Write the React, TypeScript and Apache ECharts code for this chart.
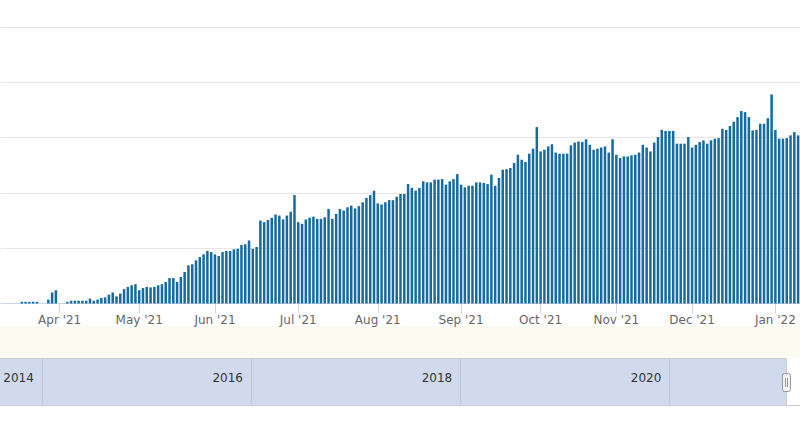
import React, { useEffect, useRef } from "react";
import * as echarts from "echarts";

// Month names of the trading-day bars (first month starts mid-month, so it is not labelled)
const monthNames = ["Mar '21", "Apr '21", "May '21", "Jun '21", "Jul '21", "Aug '21", "Sep '21", "Oct '21", "Nov '21", "Dec '21", "Jan '22"];
const labelledMonths = ["Apr '21", "May '21", "Jun '21", "Jul '21", "Aug '21", "Sep '21", "Oct '21", "Nov '21", "Dec '21", "Jan '22"];

// Daily values (one per trading day)
const mar21 = [0, 0, 0, 0, 0, 3, 3, 3, 3, 3, 0, 0, 7, 20, 24];
const apr21 = [0, 0, 3, 5, 5, 5, 5, 5, 9, 5, 7, 10, 11, 16, 20, 13, 18, 26, 30, 33, 35];
const may21 = [24, 28, 30, 29, 30, 33, 35, 39, 46, 46, 39, 48, 57, 69, 71, 78, 84, 89, 95, 93];
const jun21 = [89, 86, 93, 95, 95, 98, 99, 106, 107, 114, 99, 102, 150, 147, 151, 155, 161, 159, 152, 159, 166, 196];
const jul21 = [147, 144, 152, 155, 157, 153, 153, 156, 171, 153, 162, 171, 168, 174, 177, 172, 176, 183, 191, 196, 204];
const aug21 = [181, 179, 183, 187, 187, 193, 198, 198, 216, 209, 204, 209, 221, 219, 219, 224, 224, 225, 215, 221, 225, 234];
const sep21 = [215, 210, 213, 213, 219, 219, 218, 216, 233, 213, 227, 242, 243, 245, 254, 269, 260, 256, 271, 280, 319];
const oct21 = [275, 278, 284, 288, 273, 271, 271, 271, 286, 291, 293, 292, 297, 287, 278, 280, 282, 284, 273, 297];
const nov21 = [269, 263, 266, 266, 268, 269, 273, 287, 282, 275, 291, 301, 314, 312, 312, 312, 289, 289, 289, 301];
const dec21 = [282, 287, 292, 295, 289, 295, 298, 299, 316, 314, 321, 329, 337, 348, 346, 337, 313, 314, 325, 325, 335, 378];
const jan22 = [314, 298, 298, 299, 304, 310, 304];
const monthValues = [mar21, apr21, may21, jun21, jul21, aug21, sep21, oct21, nov21, dec21, jan22];

// Value axis
const yMin = 0;
const yMax = 500;
const yInterval = 100;

// Navigator (overview) axis
const navYears = [2014, 2016, 2018, 2020];
const navMin = 2013.6;
const navMax = 2021.125;

export default function App() {
  const ref = useRef<HTMLDivElement>(null);

  useEffect(() => {
    if (!ref.current) return;
    const chart = echarts.init(ref.current, undefined, { renderer: "svg" });

    const categories: string[] = [];
    const values: number[] = [];
    const firstOfMonth = new Set<number>();
    monthValues.forEach((arr, m) => {
      arr.forEach((v, j) => {
        if (j === 0 && labelledMonths.includes(monthNames[m])) firstOfMonth.add(categories.length);
        categories.push(monthNames[m] + "|" + j);
        values.push(v);
      });
    });
    const showIdx = (index: number) => firstOfMonth.has(index);

    chart.setOption({
      animation: false,
      textStyle: { fontFamily: "DejaVu Sans" },
      grid: [
        { left: 1, right: 0, top: 27, bottom: 120.5, containLabel: false },
        { left: 0, right: 13, top: 358, height: 47, show: true, backgroundColor: "#d1daec", borderWidth: 0 },
      ],
      xAxis: [
        {
          type: "category",
          gridIndex: 0,
          data: categories,
          boundaryGap: true,
          axisLine: { show: true, lineStyle: { color: "#ccd6eb", width: 1 } },
          axisTick: { show: true, alignWithLabel: true, interval: showIdx, length: 10, lineStyle: { color: "#ccd6eb" } },
          axisLabel: {
            show: true,
            interval: showIdx,
            formatter: (v: string) => v.split("|")[0],
            color: "#666666",
            fontSize: 12,
            margin: 10,
          },
          splitLine: { show: false },
        },
        {
          type: "value",
          gridIndex: 1,
          min: navMin,
          max: navMax,
          axisLine: { show: true, lineStyle: { color: "#c9ced8" } },
          axisTick: { show: true, inside: true, length: 47, customValues: navYears, lineStyle: { color: "#bcc5d6" } },
          axisLabel: {
            show: true,
            inside: true,
            customValues: navYears,
            margin: 21,
            align: "right",
            padding: [0, 8, 0, 0],
            color: "#333333",
            fontSize: 12,
            formatter: (v: number) => String(Math.round(v)),
          },
          splitLine: { show: false },
        },
      ],
      yAxis: [
        {
          type: "value",
          gridIndex: 0,
          min: yMin,
          max: yMax,
          interval: yInterval,
          axisLabel: { show: false },
          axisLine: { show: false },
          axisTick: { show: false },
          splitLine: { show: true, lineStyle: { color: "#e6e6e6", width: 1 } },
        },
        { type: "value", gridIndex: 1, show: false, min: 0, max: 1 },
      ],
      series: [
        {
          type: "bar",
          xAxisIndex: 0,
          yAxisIndex: 0,
          data: values,
          barWidth: 2.5,
          itemStyle: { color: "#156aa0" },
          emphasis: { disabled: true },
        },
      ],
      graphic: [
        { type: "rect", silent: true, z: -10, shape: { x: 0, y: 326, width: 800, height: 32 }, style: { fill: "#fbfbf2" } },
        { type: "line", silent: true, z: 10, shape: { x1: 0, y1: 358.5, x2: 786.5, y2: 358.5 }, style: { stroke: "#c9ced8", lineWidth: 1 } },
        {
          type: "polyline",
          silent: true,
          z: 10,
          shape: { points: [[786.5, 358.5], [786.5, 405.5], [800, 405.5]] },
          style: { stroke: "#cccccc", fill: null, lineWidth: 1 },
        },
        { type: "rect", silent: true, z: 11, shape: { x: 782.5, y: 373.5, width: 8, height: 18, r: 2 }, style: { fill: "#f2f2f2", stroke: "#999999", lineWidth: 1 } },
        { type: "line", silent: true, z: 12, shape: { x1: 785.5, y1: 378, x2: 785.5, y2: 387 }, style: { stroke: "#999999", lineWidth: 1 } },
        { type: "line", silent: true, z: 12, shape: { x1: 787.5, y1: 378, x2: 787.5, y2: 387 }, style: { stroke: "#999999", lineWidth: 1 } },
      ],
    });

    return () => chart.dispose();
  }, []);

  return <div ref={ref} style={{ position: "absolute", left: 0, top: 0, width: 800, height: 424 }} />;
}
